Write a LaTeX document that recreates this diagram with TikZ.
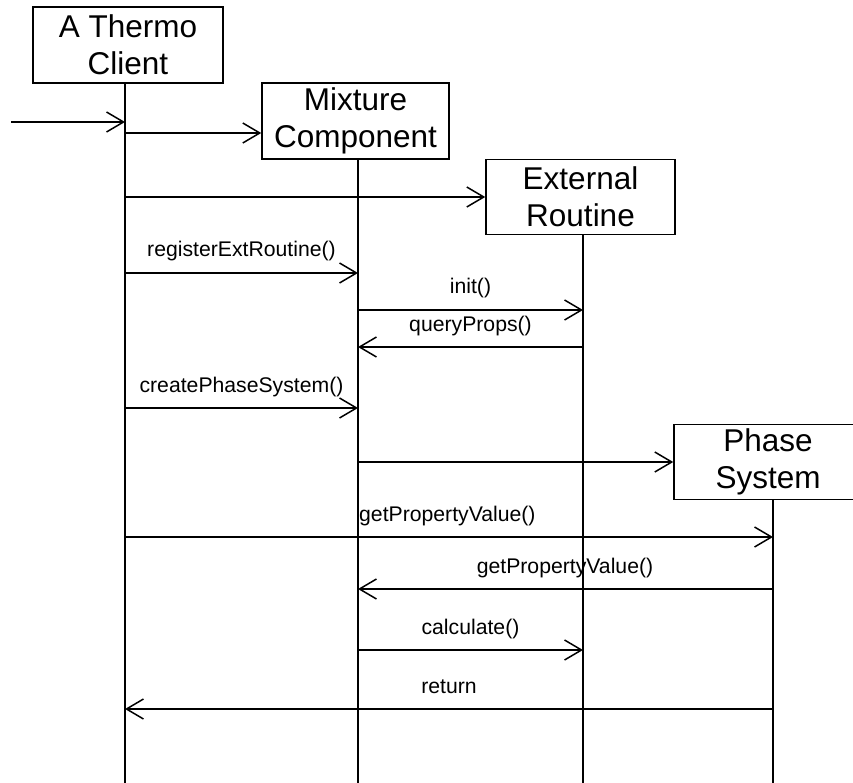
\documentclass[tikz,border=0pt]{standalone}
\usepackage{fontspec}
\setmainfont{Liberation Sans}
\usetikzlibrary{arrows.meta,calc}
\begin{document}
\begin{tikzpicture}[x=1pt,y=-1pt,
  obj/.style={draw, line width=1.5pt, align=center, inner sep=0pt,
              font=\fontsize{31.5}{37}\selectfont},
  life/.style={line width=1.5pt},
  msg/.style={line width=1.5pt, -{Straight Barb[length=17pt,width=20pt]}},
  lbl/.style={anchor=base, inner sep=0pt, font=\fontsize{21.2}{25}\selectfont}]
\useasboundingbox (0,0) rectangle (853,783);
\clip (0,0) rectangle (853,783);

% objects
\node[obj, minimum width=190pt, minimum height=76pt] (client)   at (128,45)    {A Thermo\\Client};
\node[obj, minimum width=187pt, minimum height=76pt] (mixture)  at (355.5,121) {Mixture\\Component};
\node[obj, minimum width=189pt, minimum height=75pt] (external) at (580.5,197) {External\\Routine};
\node[obj, minimum width=188pt, minimum height=75pt] (phase)    at (768,462) {Phase\\System};

% lifeline x positions and page bottom
\coordinate (clX) at (125,0);
\coordinate (mxX) at (358,0);
\coordinate (exX) at (583,0);
\coordinate (phX) at (773,0);
\coordinate (bottom) at (0,783);
\coordinate (src) at (11,122);

% lifelines
\draw[life] (client.south -| clX)   -- (clX |- bottom);
\draw[life] (mixture.south -| mxX)  -- (mxX |- bottom);
\draw[life] (external.south -| exX) -- (exX |- bottom);
\draw[life] (phase.south -| phX)    -- (phX |- bottom);

% creation messages
\draw[msg] (src) -- ($(clX)+(0,122)$);
\draw[msg] ($(clX)+(0,133)$) -- ($(mixture.west)+(0,12)$);
\draw[msg] (external.west -| clX) -- (external.west);

% registerExtRoutine()
\draw[msg] ($(clX)+(0,273)$) -- ($(mxX)+(0,273)$);
\node[lbl] (l1) at (241.5,257) {registerExtRoutine()};

% init()
\draw[msg] ($(mxX)+(0,310)$) -- ($(exX)+(0,310)$);
\node[lbl] (l2) at (470.5,294) {init()};

% queryProps()
\draw[msg] ($(exX)+(0,347)$) -- ($(mxX)+(0,347)$);
\node[lbl] (l3) at (470.5,331) {queryProps()};

% createPhaseSystem()
\draw[msg] ($(clX)+(0,408)$) -- ($(mxX)+(0,408)$);
\node[lbl] (l4) at (241.5,392) {createPhaseSystem()};

% phase system creation
\draw[msg] (phase.west -| mxX) -- (phase.west);

% getPropertyValue() from client
\draw[msg] ($(clX)+(0,537)$) -- ($(phX)+(0,537)$);
\node[lbl, anchor=base west] (l5) at (359,521) {getPropertyValue()};

% getPropertyValue() to mixture
\draw[msg] ($(phX)+(0,589)$) -- ($(mxX)+(0,589)$);
\node[lbl] (l6) at (565,573) {getPropertyValue()};

% calculate()
\draw[msg] ($(mxX)+(0,650)$) -- ($(exX)+(0,650)$);
\node[lbl] (l7) at (470.5,634) {calculate()};

% return
\draw[msg] ($(phX)+(0,709)$) -- ($(clX)+(0,709)$);
\node[lbl] (l8) at (449,693) {return};
\end{tikzpicture}
\end{document}
